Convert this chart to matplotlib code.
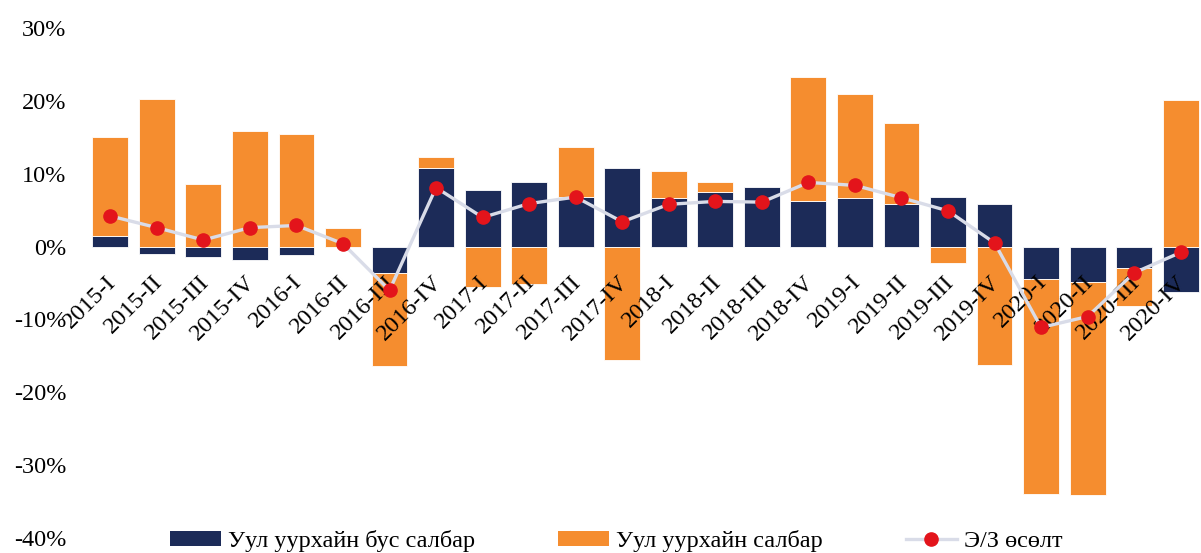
import matplotlib
matplotlib.use("Agg")
import matplotlib.pyplot as plt
from matplotlib.patches import Patch
from matplotlib.lines import Line2D
from matplotlib.transforms import ScaledTranslation
import numpy as np

categories = ["2015-I", "2015-II", "2015-III", "2015-IV", "2016-I", "2016-II",
              "2016-III", "2016-IV", "2017-I", "2017-II", "2017-III", "2017-IV",
              "2018-I", "2018-II", "2018-III", "2018-IV", "2019-I", "2019-II",
              "2019-III", "2019-IV", "2020-I", "2020-II", "2020-III", "2020-IV"]
non_mining = [1.5, -1.0, -1.4, -1.9, -1.2, 0.0, -3.6, 10.8, 7.7, 8.8, 6.8, 10.8,
              6.7, 7.5, 8.2, 6.2, 6.6, 5.8, 6.8, 5.9, -4.4, -4.9, -3.0, -6.2]
mining = [13.6, 20.3, 8.6, 15.8, 15.5, 2.6, -12.8, 1.5, -5.5, -5.2, 6.9, -15.5,
          3.7, 1.4, 0.0, 17.1, 14.4, 11.2, -2.2, -16.2, -29.6, -29.2, -5.1, 20.1]
gdp_growth = [4.2, 2.6, 0.9, 2.6, 2.9, 0.4, -6.0, 8.1, 4.0, 5.9, 6.8, 3.4,
              5.8, 6.2, 6.1, 8.8, 8.4, 6.7, 4.9, 0.5, -11.1, -9.6, -3.6, -0.8]
yticks = [-40, -30, -20, -10, 0, 10, 20, 30]

label_nonmining = "Уул уурхайн бус салбар"
label_mining = "Уул уурхайн салбар"
label_gdp = "Э/З өсөлт"

navy = "#1c2b58"
orange = "#f58d2f"
red = "#e3141b"
linecol = "#d9dce8"

plt.rcParams['font.family'] = ['Liberation Serif', 'DejaVu Serif']

fig = plt.figure(figsize=(12.01, 5.53), dpi=100)
ax = fig.add_axes([87/1201, 15/553, 1117/1201, 510/553])
ax.set_axisbelow(False)

x = np.arange(len(categories))
nm = np.array(non_mining)
mn = np.array(mining)
bottom = np.where(np.sign(nm) == np.sign(mn), nm, 0.0)

w = 0.77
ax.bar(x, nm, width=w, color=navy, zorder=2, edgecolor='white', linewidth=0.6)
ax.bar(x, mn, bottom=bottom, width=w, color=orange, zorder=2, edgecolor='white', linewidth=0.6)
ax.plot(x, gdp_growth, color=linecol, lw=2.4, zorder=3, marker='o',
        markersize=9.5, markerfacecolor=red, markeredgecolor=red)

for s in ax.spines.values():
    s.set_visible(False)
ax.spines['bottom'].set_position(('data', 0))

ax.set_xlim(-0.5, 23.5)
ax.set_ylim(-40, 30)
ax.set_yticks(yticks)
ax.set_yticklabels([f"{v}%" for v in yticks], fontsize=17.5)
ax.set_xticks(x)
ax.set_xticklabels(categories, fontsize=17.5, rotation=45, ha='right',
                   va='top', rotation_mode='anchor')
ax.tick_params(axis='x', length=0, pad=18)
ax.tick_params(axis='y', length=0, pad=15)
shift = ScaledTranslation(-5/100, 0, fig.dpi_scale_trans)
for lab in ax.get_xticklabels():
    lab.set_transform(lab.get_transform() + shift)

handles = [Patch(facecolor=navy, edgecolor='none'),
           Patch(facecolor=orange, edgecolor='none'),
           Line2D([0], [0], color=linecol, lw=2.4, marker='o', markersize=9.5,
                  markerfacecolor=red, markeredgecolor=red)]
fig.legend(handles, [label_nonmining, label_mining, label_gdp],
           loc='center left', bbox_to_anchor=(170/1201, 12/553), ncol=3,
           frameon=False, fontsize=17.5, borderpad=0, borderaxespad=0,
           handlelength=2.1, handletextpad=0.3, columnspacing=3.4,
           handleheight=0.6)

fig.savefig("out.png", dpi=100)
